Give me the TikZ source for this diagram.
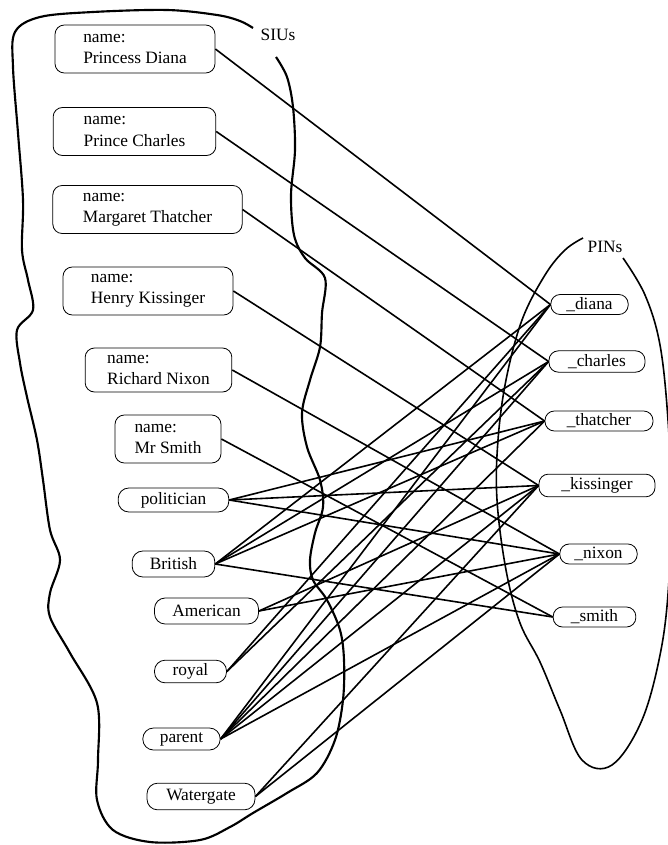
\documentclass[tikz,border=0pt]{standalone}
\usepackage{fontspec}
\setmainfont{Liberation Serif}
\begin{document}
\begin{tikzpicture}[x=0.75pt,y=-0.75pt,
	font=\fontsize{13}{16}\selectfont,
	siu/.style={draw, line width=0.6pt, rounded corners=7pt, align=left, minimum height=36pt, inner sep=2pt},
	tag/.style={draw, line width=0.6pt, rounded corners=8pt, minimum height=18pt, inner sep=1pt},
	pin/.style={draw, line width=0.6pt, rounded corners=7pt, minimum height=15pt, inner sep=1pt},
	link/.style={line width=1.2pt}]
	\useasboundingbox (0,0) rectangle (667,845);
	
	% the two sets
	\draw[line width=1.6pt] plot[smooth, tension=0.55] coordinates {(276,57) (287,77) (293,107) (295,150) (291,195) (294,235) (305,258) (325,278) (322,313) (320,347) (310,380) (302,413) (307,447) (320,480) (323,507) (315,533) (310,560) (313,580) (327,600) (340,630) (344,660) (343,700) (335,740) (317,773) (287,793) (253,813) (230,827) (200,840) (150,842) (113,830) (97,800) (98,760) (97,703) (70,653) (50,617) (50,593) (60,560) (50,530) (43,480) (37,440) (27,397) (20,363) (17,330) (33,310) (28,280) (22,250) (23,200) (18,133) (13,67) (15,32) (40,17) (93,12) (167,10) (217,15) (240,21) (253,28)};
	\node (sius) at (278,35) {SIUs};
	\draw[line width=1.2pt] plot[smooth, tension=0.6] coordinates {(623,258) (645,295) (660,345) (668,420) (671,500) (669,580) (661,650) (642,720) (612,765) (582,760) (560,710) (540,662) (520,623) (506,570) (497,500) (498,440) (506,380) (522,320) (545,275) (565,250) (583,238)};
	\node (pins) at (605,247) {PINs};
	
	% SIUs
	\node[siu, minimum width=120pt] (diana) at (135,49) {name:\\Princess Diana};
	\node[siu, minimum width=122pt] (charles) at (134.5,131.5) {name:\\Prince Charles};
	\node[siu, minimum width=142pt] (thatcher) at (147.5,209.5) {name:\\Margaret Thatcher};
	\node[siu, minimum width=127.5pt] (kissinger) at (148,291) {name:\\Henry Kissinger};
	\node[siu, minimum width=110pt, minimum height=33pt] (nixon) at (158.5,370) {name:\\Richard Nixon};
	\node[siu, minimum width=79.5pt] (smith) at (168,439) {name:\\Mr Smith};
	\node[tag, minimum width=83pt] (politician) at (173.5,500) {politician};
	\node[tag, minimum width=62pt, minimum height=19.5pt] (british) at (173.5,564) {British};
	\node[tag, minimum width=78pt, minimum height=19.5pt] (american) at (206.5,611) {American};
	\node[tag, minimum width=54pt, minimum height=17pt] (royal) at (190.5,671.5) {royal};
	\node[tag, minimum width=58pt, minimum height=16.5pt] (parent) at (181.5,739) {parent};
	\node[tag, minimum width=81pt, minimum height=20pt] (watergate) at (201,796.5) {Watergate};
	
	% PINs
	\node[pin, minimum width=58pt] (pdiana) at (589.5,304.5) {\_diana};
	\node[pin, minimum width=72pt, minimum height=16pt] (pcharles) at (597,361.5) {\_charles};
	\node[pin, minimum width=81pt] (pthatcher) at (599,421) {\_thatcher};
	\node[pin, minimum width=87pt, minimum height=17pt] (pkissinger) at (597,485.5) {\_kissinger};
	\node[pin, minimum width=58pt] (pnixon) at (598.5,554) {\_nixon};
	\node[pin, minimum width=62pt] (psmith) at (594.5,617) {\_smith};
	
	% links
	\foreach \s in {diana,charles,thatcher,kissinger,nixon,smith}
		\draw[link] (\s.east) -- (p\s.west);
	\foreach \a/\b in {politician/thatcher, politician/kissinger, politician/nixon,
		british/diana, british/charles, british/thatcher, british/smith,
		american/kissinger, american/nixon, royal/diana, royal/charles,
		parent/diana, parent/charles, parent/thatcher, parent/kissinger, parent/nixon,
		watergate/kissinger, watergate/nixon}
		\draw[link] (\a.east) -- (p\b.west);
\end{tikzpicture}
\end{document}
